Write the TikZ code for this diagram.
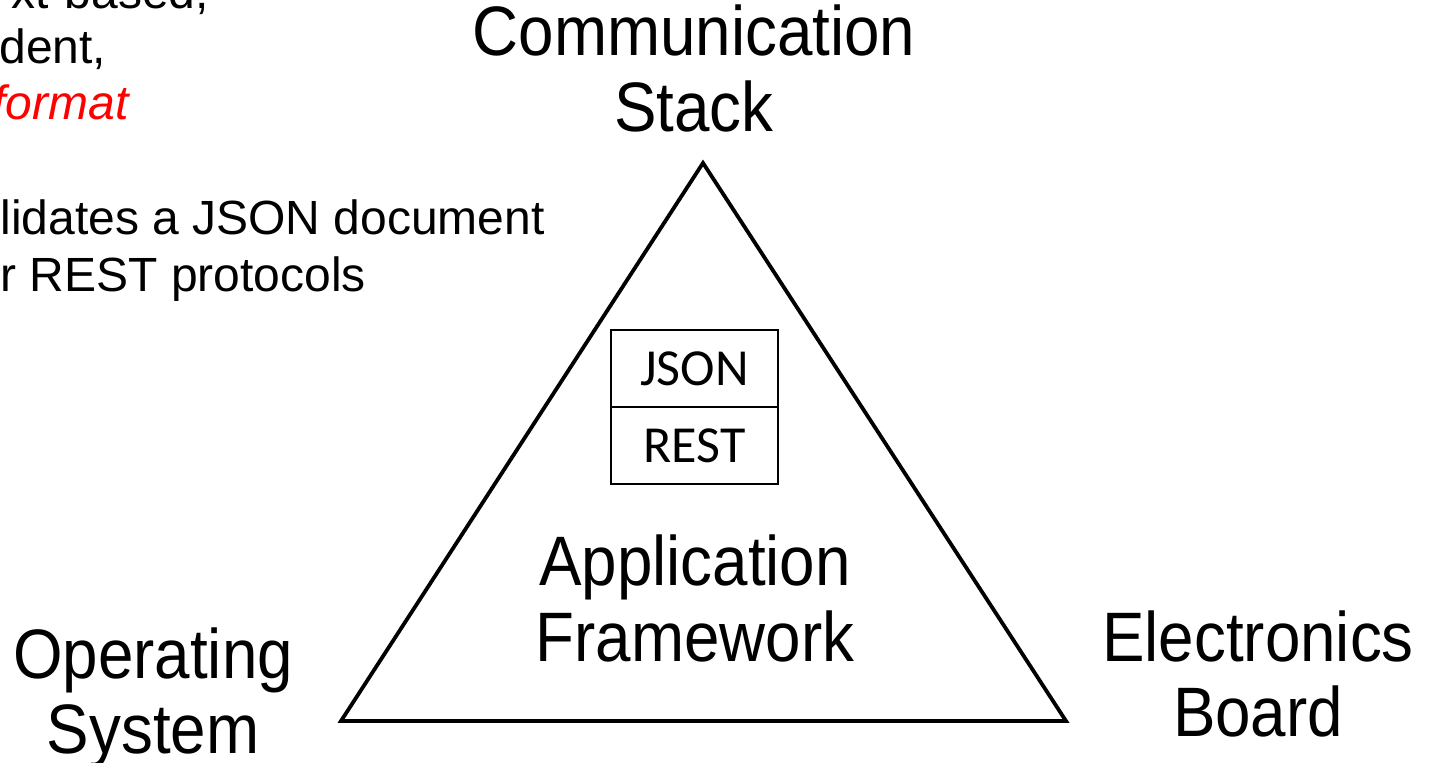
\documentclass[tikz,border=0pt]{standalone}
\usepackage{fontspec}
\setmainfont{Liberation Sans}
\newfontfamily\labfont[FakeStretch=0.91]{Liberation Sans}
\newfontfamily\notefont{Liberation Sans}
\newfontfamily\boxfont{Carlito}
\begin{document}
\begin{tikzpicture}[x=0.5pt,y=-0.5pt,
  big/.style={inner sep=0pt,anchor=base,font=\labfont\fontsize{35}{40}\selectfont},
  note/.style={inner sep=0pt,anchor=base west,font=\notefont\fontsize{24}{28}\selectfont},
  cell/.style={draw,line width=1pt,minimum width=83.5pt,minimum height=38.5pt,inner sep=0pt,
    font=\boxfont\fontsize{26}{30}\selectfont},
  tri/.style={line width=1.9pt,line join=miter}]
\useasboundingbox (0,0) rectangle (1433,763);
\clip (0,0) rectangle (1433,763);
% notes (cut off at the left and top)
\node[note] (n1) at (11,9) {xt-based,};
\node[note] (n2) at (-1,64) {dent,};
\node[note,text=red,font=\notefont\itshape\fontsize{24}{28}\selectfont] (n3) at (-8,120) {format};
\node[note] (n4) at (0,235) {lidates a JSON document};
\node[note] (n5) at (0,292) {r REST protocols};
% triangle
\coordinate (apex) at (703,163);
\coordinate (bl) at (341,721);
\coordinate (br) at (1066,721);
\draw[tri] (apex) -- (bl) -- (br) -- cycle;
% JSON / REST box
\node[cell] (json) at (694.5,368.5) {JSON};
\node[cell] (rest) at (694.5,445.5) {REST};
% labels
\node[big] (comm1) at (694,56) {Communication};
\node[big] (comm2) at (694,132) {Stack};
\node[big] (app1) at (695,585) {Application};
\node[big] (app2) at (695,661) {Framework};
\node[big] (os1) at (153,678) {Operating};
\node[big] (os2) at (153,753) {System};
\node[big] (eb1) at (1258,661) {Electronics};
\node[big] (eb2) at (1258,736) {Board};
\end{tikzpicture}
\end{document}
